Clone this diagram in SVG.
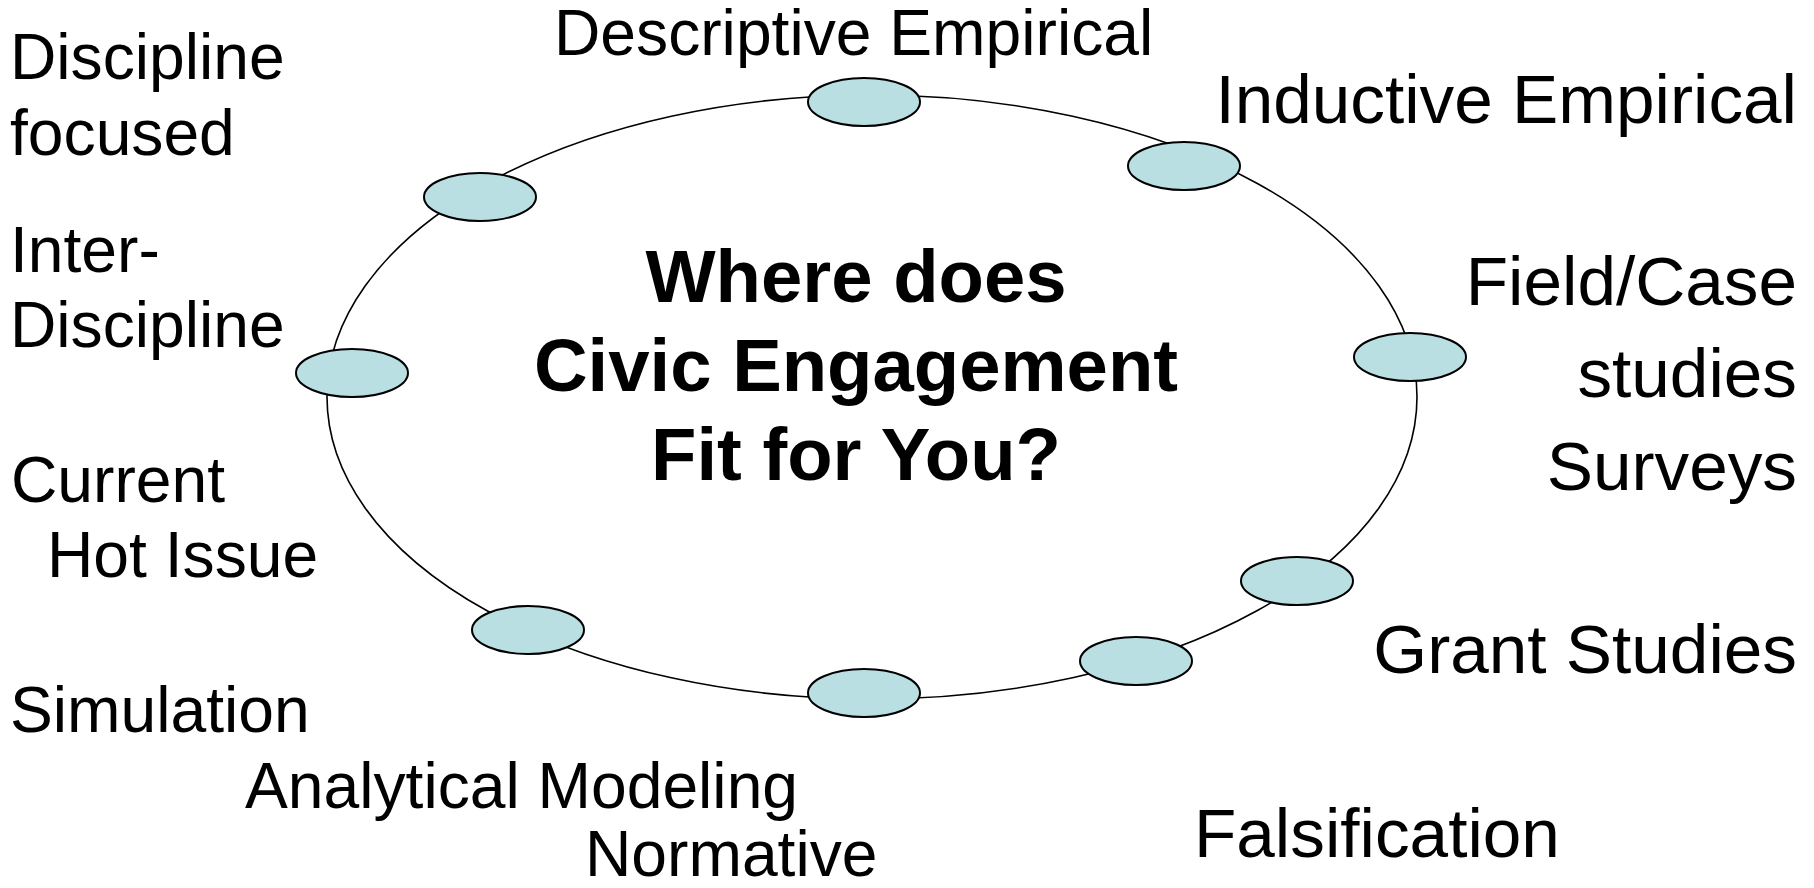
<svg xmlns="http://www.w3.org/2000/svg" width="1814" height="888" viewBox="0 0 1814 888">
<style>
.lbl{font-family:"Liberation Sans",Arial,sans-serif;font-size:64.2px;fill:#000}
.lblr{font-family:"Liberation Sans",Arial,sans-serif;font-size:69.3px;fill:#000}
.title{font-family:"Liberation Sans",Arial,sans-serif;font-size:74.3px;font-weight:bold;fill:#000;text-anchor:middle}
.node{fill:#B9DFE2;stroke:#000;stroke-width:2}
.ring{fill:none;stroke:#000;stroke-width:1.6}
</style>
<rect width="1814" height="888" fill="#fff"/>
<g id="connectors">
<ellipse class="ring" cx="872" cy="397" rx="545" ry="302"/>
</g>
<g id="n-top"><ellipse class="node" cx="864" cy="102" rx="56" ry="24"/></g>
<g id="n-upper-right"><ellipse class="node" cx="1184" cy="166" rx="56" ry="24"/></g>
<g id="n-upper-left"><ellipse class="node" cx="480" cy="197" rx="56" ry="24"/></g>
<g id="n-left"><ellipse class="node" cx="352" cy="373" rx="56" ry="24"/></g>
<g id="n-right"><ellipse class="node" cx="1410" cy="357" rx="56" ry="24"/></g>
<g id="n-lower-right"><ellipse class="node" cx="1297" cy="581" rx="56" ry="24"/></g>
<g id="n-bottom-right"><ellipse class="node" cx="1136" cy="661" rx="56" ry="24"/></g>
<g id="n-bottom"><ellipse class="node" cx="864" cy="693" rx="56" ry="24"/></g>
<g id="n-lower-left"><ellipse class="node" cx="528" cy="630" rx="56" ry="24"/></g>
<g id="center-title">
<text class="title" x="856" y="302">Where does</text>
<text class="title" x="856" y="391">Civic Engagement</text>
<text class="title" x="856" y="480">Fit for You?</text>
</g>
<g id="labels">
<text class="lbl" x="554" y="55">Descriptive Empirical</text>
<text class="lblr" x="1797" y="123" text-anchor="end">Inductive Empirical</text>
<text class="lbl" x="10" y="79">Discipline</text>
<text class="lbl" x="10" y="155">focused</text>
<text class="lbl" x="10" y="272">Inter-</text>
<text class="lbl" x="10" y="347">Discipline</text>
<text class="lbl" x="11" y="502">Current</text>
<text class="lbl" x="47" y="577">Hot Issue</text>
<text class="lbl" x="10" y="732">Simulation</text>
<text class="lbl" x="245" y="808">Analytical Modeling</text>
<text class="lbl" x="585" y="876">Normative</text>
<text class="lblr" x="1797" y="305" text-anchor="end">Field/Case</text>
<text class="lblr" x="1797" y="397" text-anchor="end">studies</text>
<text class="lblr" x="1797" y="490" text-anchor="end">Surveys</text>
<text class="lblr" x="1797" y="673" text-anchor="end">Grant Studies</text>
<text class="lblr" x="1194" y="857">Falsification</text>
</g>
</svg>
